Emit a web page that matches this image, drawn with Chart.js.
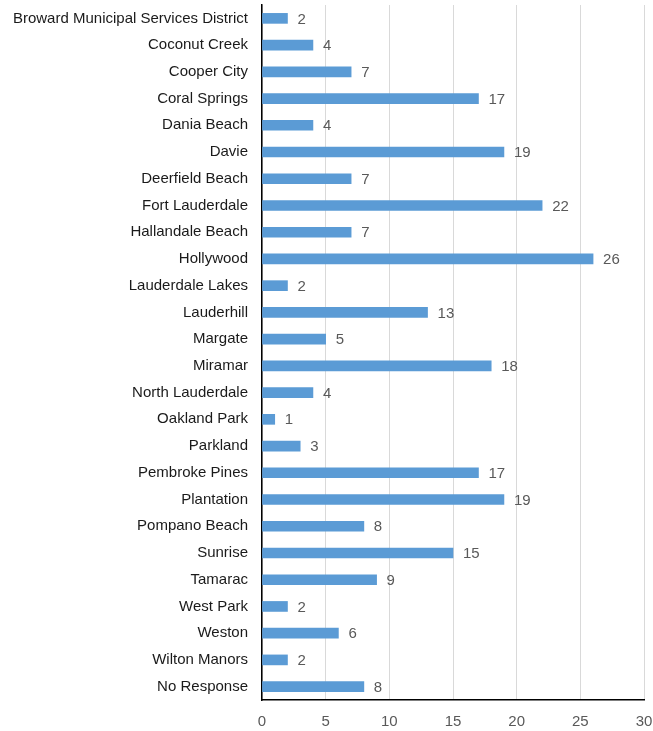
<!DOCTYPE html>
<html>
<head>
<meta charset="utf-8">
<script src="https://cdn.jsdelivr.net/npm/chart.js@4/dist/chart.umd.min.js"></script>
<style>
  html, body { margin: 0; padding: 0; background: #ffffff; }
  #chart { display: block; }
</style>
</head>
<body>
<canvas id="chart" width="653" height="731"></canvas>
<script>
const cities = [
  'Broward Municipal Services District', 'Coconut Creek', 'Cooper City', 'Coral Springs',
  'Dania Beach', 'Davie', 'Deerfield Beach', 'Fort Lauderdale', 'Hallandale Beach',
  'Hollywood', 'Lauderdale Lakes', 'Lauderhill', 'Margate', 'Miramar', 'North Lauderdale',
  'Oakland Park', 'Parkland', 'Pembroke Pines', 'Plantation', 'Pompano Beach', 'Sunrise',
  'Tamarac', 'West Park', 'Weston', 'Wilton Manors', 'No Response'
];
const responses = [2, 4, 7, 17, 4, 19, 7, 22, 7, 26, 2, 13, 5, 18, 4, 1, 3, 17, 19, 8, 15, 9, 2, 6, 2, 8];
const xTicks = [0, 5, 10, 15, 20, 25, 30];

const FONT = 'Liberation Sans, Arial, sans-serif';

// value labels drawn just past the end of each bar
const valueLabels = {
  id: 'valueLabels',
  afterDatasetsDraw(chart) {
    const ctx = chart.ctx;
    const meta = chart.getDatasetMeta(0);
    ctx.save();
    ctx.font = '15px ' + FONT;
    ctx.fillStyle = '#595959';
    ctx.textAlign = 'left';
    ctx.textBaseline = 'middle';
    meta.data.forEach((bar, i) => {
      ctx.fillText(String(responses[i]), bar.x + 10, bar.y + 1);
    });
    ctx.restore();
  }
};

// keep the plot area fixed; drop the padding scales add for their end labels
function noPad(scale) {
  scale.paddingTop = 0;
  scale.paddingBottom = 0;
  scale.paddingLeft = 0;
  scale.paddingRight = 0;
}

new Chart(document.getElementById('chart'), {
  type: 'bar',
  data: {
    labels: cities,
    datasets: [{
      data: responses,
      backgroundColor: '#5B9BD5',
      borderWidth: 0,
      barThickness: 10
    }]
  },
  options: {
    indexAxis: 'y',
    responsive: false,
    animation: false,
    layout: { padding: { top: 5, right: 9, bottom: 0, left: 0 } },
    plugins: {
      legend: { display: false },
      tooltip: { enabled: false }
    },
    scales: {
      x: {
        min: 0,
        max: 30,
        afterBuildTicks(scale) {
          scale.ticks = xTicks.map(v => ({ value: v }));
        },
        afterFit(scale) { scale.height = 31; noPad(scale); },
        grid: { color: '#d9d9d9', lineWidth: 1, drawTicks: false },
        border: { display: true, color: '#000000', width: 1.5 },
        ticks: { padding: 13, color: '#595959', maxRotation: 0, font: { family: FONT, size: 15 } }
      },
      y: {
        afterFit(scale) { scale.width = 262; noPad(scale); },
        grid: { display: false, drawTicks: false },
        border: { display: true, color: '#000000', width: 1.5 },
        ticks: { padding: 14, color: '#1a1a1a', autoSkip: false, font: { family: FONT, size: 15 } }
      }
    }
  },
  plugins: [valueLabels]
});
</script>
</body>
</html>
